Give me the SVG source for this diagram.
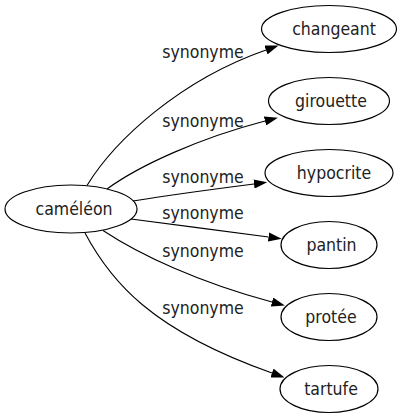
<svg xmlns="http://www.w3.org/2000/svg" width="401" height="419" viewBox="0 0 401 419">
<style>
.node ellipse{fill:none;stroke:#000;stroke-width:1.2}
.node text,.lbl{font-family:"DejaVu Sans Condensed","DejaVu Sans",sans-serif;font-stretch:condensed;font-size:17.5px;fill:#222;text-anchor:middle}
.edge path{fill:none;stroke:#000;stroke-width:1.1}
</style>
<defs>
<marker id="arr" viewBox="0 0 10 7" refX="0" refY="3.5" markerUnits="userSpaceOnUse" markerWidth="13.3" markerHeight="9.3" orient="auto">
<path d="M0,0 L10,3.5 L0,7 z" fill="#000"/>
</marker>
</defs>
<rect width="401" height="419" fill="#fff"/>
<g id="connectors" class="edge">
<path d="M87,185.5 C115,140 180,80 266,50" marker-end="url(#arr)"/>
<path d="M107,189 C140,165 200,138 265,121" marker-end="url(#arr)"/>
<path d="M133,201 C170,195 215,189 254,184" marker-end="url(#arr)"/>
<path d="M131,219 C175,225 225,231 268.5,237" marker-end="url(#arr)"/>
<path d="M103,230.5 C140,255 200,283 272,302" marker-end="url(#arr)"/>
<path d="M85,233 C110,280 150,330 272,373" marker-end="url(#arr)"/>
<text class="lbl" x="203" y="57.7">synonyme</text>
<text class="lbl" x="203" y="126.7">synonyme</text>
<text class="lbl" x="203" y="182.7">synonyme</text>
<text class="lbl" x="203" y="219">synonyme</text>
<text class="lbl" x="203" y="257.3">synonyme</text>
<text class="lbl" x="203" y="314">synonyme</text>
</g>
<g id="cameleon" class="node">
<ellipse cx="71" cy="209" rx="66" ry="24"/>
<text x="74" y="215">caméléon</text>
</g>
<g id="changeant" class="node">
<ellipse cx="329" cy="29" rx="67.5" ry="23.5"/>
<text x="334" y="35">changeant</text>
</g>
<g id="girouette" class="node">
<ellipse cx="329" cy="101" rx="60.5" ry="23.5"/>
<text x="331" y="107">girouette</text>
</g>
<g id="hypocrite" class="node">
<ellipse cx="329" cy="173" rx="64" ry="23.5"/>
<text x="334" y="179">hypocrite</text>
</g>
<g id="pantin" class="node">
<ellipse cx="329" cy="245" rx="48" ry="23.5"/>
<text x="331.5" y="251">pantin</text>
</g>
<g id="protee" class="node">
<ellipse cx="329" cy="317" rx="48" ry="23.5"/>
<text x="331" y="323">protée</text>
</g>
<g id="tartufe" class="node">
<ellipse cx="329" cy="389" rx="49" ry="23.5"/>
<text x="331" y="395">tartufe</text>
</g>
</svg>
